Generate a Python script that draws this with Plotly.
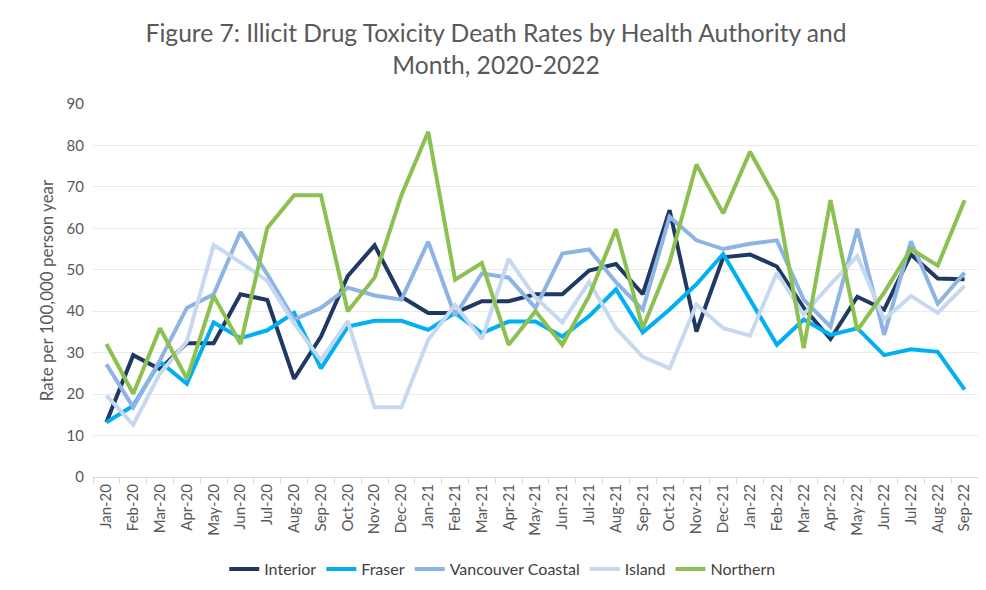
import plotly.graph_objects as go

months = [
    "Jan-20", "Feb-20", "Mar-20", "Apr-20", "May-20", "Jun-20", "Jul-20", "Aug-20", "Sep-20",
    "Oct-20", "Nov-20", "Dec-20", "Jan-21", "Feb-21", "Mar-21", "Apr-21", "May-21", "Jun-21",
    "Jul-21", "Aug-21", "Sep-21", "Oct-21", "Nov-21", "Dec-21", "Jan-22", "Feb-22", "Mar-22",
    "Apr-22", "May-22", "Jun-22", "Jul-22", "Aug-22", "Sep-22",
]

interior = [13.2, 29.4, 26.0, 32.3, 32.3, 44.1, 42.7, 23.7, 33.9, 48.5, 55.9, 43.5,
            39.6, 39.6, 42.4, 42.4, 44.1, 44.1, 49.8, 51.4, 44.1, 64.4, 35.1, 53.0,
            53.7, 50.8, 40.8, 33.3, 43.5, 40.4, 53.7, 47.9, 47.7]
fraser = [13.2, 17.2, 27.8, 22.5, 37.3, 33.5, 35.4, 39.6, 26.2, 36.3, 37.7, 37.7,
          35.5, 39.6, 34.7, 37.5, 37.5, 33.9, 38.8, 45.3, 34.9, 40.4, 46.5, 53.8,
          42.8, 31.9, 38.0, 34.3, 35.9, 29.4, 30.8, 30.2, 21.1]
vancouver_coastal = [27.2, 16.8, 28.2, 40.8, 44.1, 59.1, 48.9, 38.0, 40.8, 45.7, 43.8, 42.8,
                     56.8, 38.9, 49.1, 48.1, 40.8, 53.9, 54.9, 47.0, 40.4, 62.8, 57.1, 55.0,
                     56.3, 57.1, 42.8, 36.3, 59.9, 34.3, 56.9, 41.8, 49.3]
island = [19.7, 12.6, 25.0, 32.7, 56.0, 51.8, 47.3, 37.0, 28.2, 37.6, 16.8, 16.8,
          33.1, 41.5, 33.3, 52.6, 43.3, 37.3, 47.1, 35.9, 29.0, 26.2, 41.6, 35.9,
          34.1, 49.3, 39.2, 46.5, 53.3, 38.0, 43.7, 39.6, 46.1]
northern = [32.1, 20.1, 35.9, 23.7, 43.7, 32.1, 60.1, 68.0, 68.0, 40.0, 48.1, 68.0,
            83.3, 47.6, 51.6, 31.9, 40.0, 31.9, 43.7, 59.8, 35.9, 51.8, 75.4, 63.6,
            78.5, 66.8, 31.1, 66.8, 35.4, 44.5, 55.0, 51.0, 66.8]

series = [
    ("Interior", interior, "#1F3864"),
    ("Fraser", fraser, "#00B0F0"),
    ("Vancouver Coastal", vancouver_coastal, "#8EB4E3"),
    ("Island", island, "#C6D9F1"),
    ("Northern", northern, "#8CC152"),
]

font = "Lato, 'Open Sans', sans-serif"

fig = go.Figure()
for name, vals, color in series:
    fig.add_trace(go.Scatter(x=months, y=vals, mode="lines", name=name,
                             line=dict(color=color, width=4)))

fig.update_layout(
    width=986, height=590,
    paper_bgcolor="white", plot_bgcolor="white",
    font=dict(family=font, color="#595959"),
    title=dict(text="Figure 7: Illicit Drug Toxicity Death Rates by Health Authority and<br>Month, 2020-2022",
               x=0.495, xanchor="center", y=0.943, yanchor="middle",
               font=dict(size=24.6, color="#595959", family=font)),
    margin=dict(l=85, r=16, t=96, b=116),
    legend=dict(orientation="h", x=0.463, xanchor="center", y=-0.247, yanchor="middle",
                font=dict(size=16, color="#404040")),
    showlegend=True,
)
fig.update_xaxes(type="category", range=[-0.5, 32.5], tickangle=-90, automargin=False,
                 ticks="outside", tickson="boundaries", ticklen=6, tickcolor="#D9D9D9",
                 showline=True, linecolor="#D9D9D9", linewidth=1, showgrid=False,
                 tickfont=dict(size=15, color="#595959"))
fig.update_yaxes(range=[0, 90], dtick=10, showgrid=True, gridcolor="#EBEBEB",
                 zeroline=False, showline=False, automargin=False,
                 tickfont=dict(size=15, color="#595959"), ticklabelstandoff=8,
                 title=dict(text="Rate per 100,000 person year", font=dict(size=17, color="#595959"),
                            standoff=8))

fig.write_html("out.html")
